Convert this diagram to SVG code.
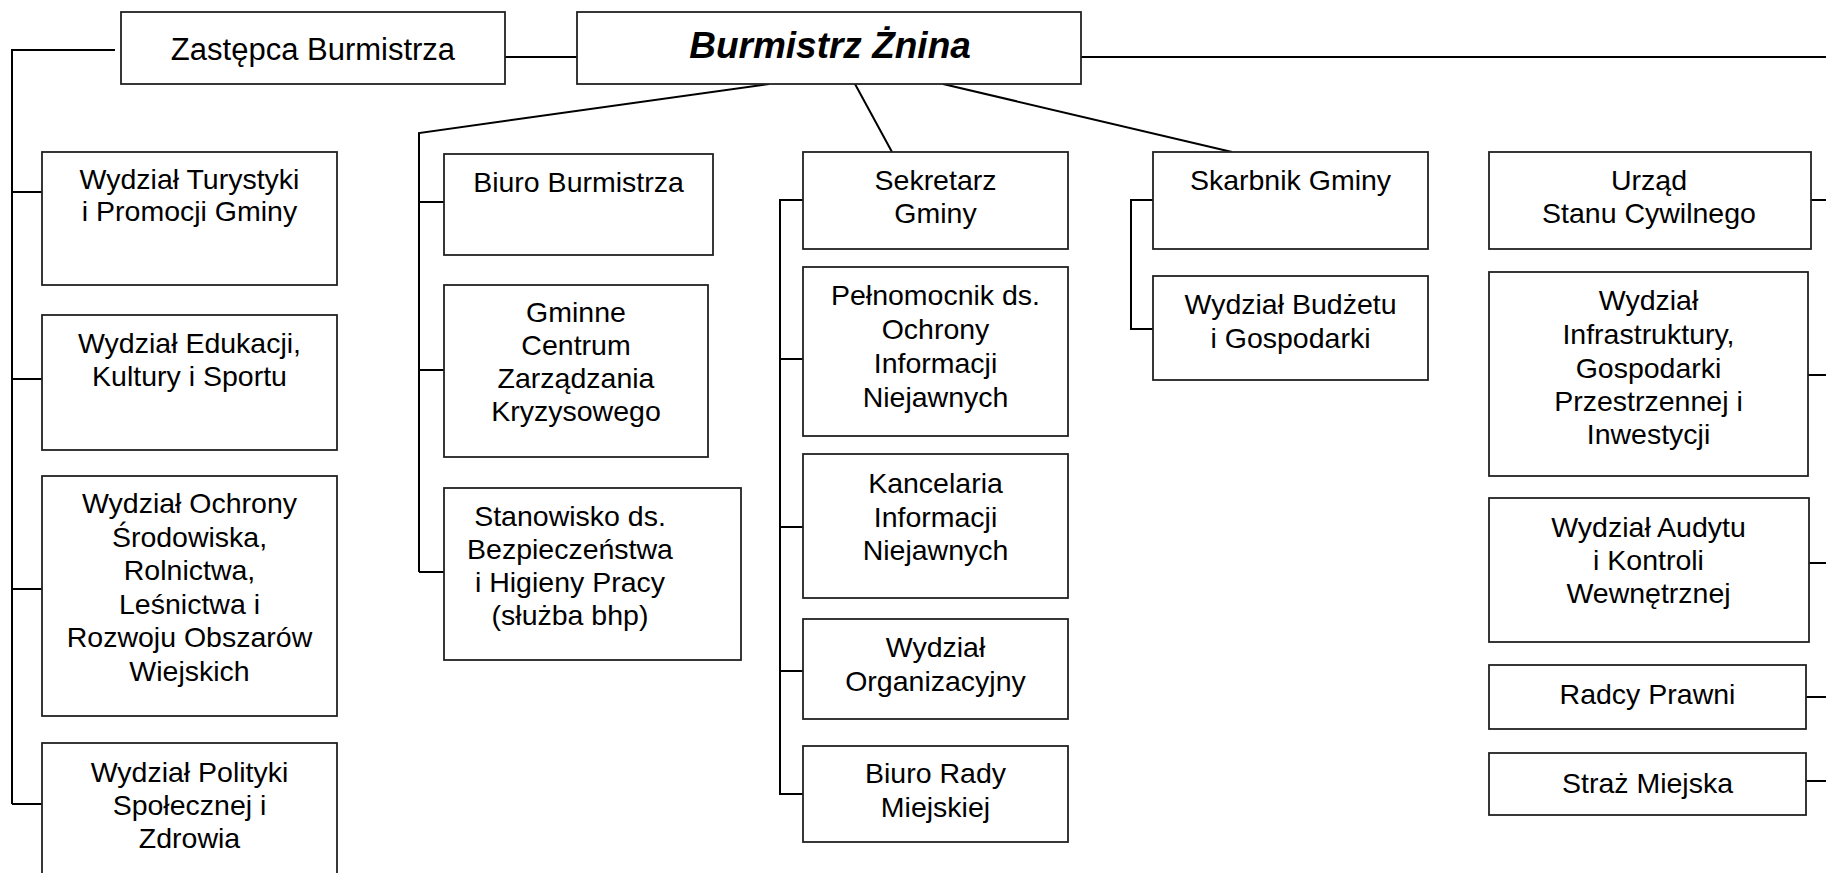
<svg xmlns="http://www.w3.org/2000/svg" width="1826" height="873" viewBox="0 0 1826 873">
<style>
.box{fill:#fff;stroke:#222;stroke-width:1.8}
.ln{fill:none;stroke:#000;stroke-width:2}
text{font-family:"Liberation Sans",Arial,sans-serif;font-size:28.5px;fill:#000;text-anchor:middle}
.title{font-size:37px;font-weight:bold;font-style:italic}
.dep{font-size:31px}
</style>
<rect width="1826" height="873" fill="#fff"/>
<g id="connectors">
<polyline class="ln" points="115,50 12,50 12,804"/>
<line class="ln" x1="12" y1="192" x2="42" y2="192"/>
<line class="ln" x1="12" y1="379" x2="42" y2="379"/>
<line class="ln" x1="12" y1="589" x2="42" y2="589"/>
<line class="ln" x1="12" y1="804" x2="43" y2="804"/>
<line class="ln" x1="505" y1="57" x2="577" y2="57"/>
<line class="ln" x1="1081" y1="57" x2="1826" y2="57"/>
<polyline class="ln" points="769,84 419,133 419,572"/>
<line class="ln" x1="419" y1="202" x2="444" y2="202"/>
<line class="ln" x1="419" y1="370" x2="444" y2="370"/>
<line class="ln" x1="419" y1="572" x2="444" y2="572"/>
<line class="ln" x1="855" y1="84" x2="892" y2="152"/>
<polyline class="ln" points="803,200 780,200 780,794 803,794"/>
<line class="ln" x1="780" y1="359" x2="803" y2="359"/>
<line class="ln" x1="780" y1="527" x2="803" y2="527"/>
<line class="ln" x1="780" y1="671" x2="803" y2="671"/>
<line class="ln" x1="943" y1="84" x2="1232" y2="152"/>
<polyline class="ln" points="1153,200 1131,200 1131,329 1153,329"/>
<line class="ln" x1="1811" y1="200" x2="1826" y2="200"/>
<line class="ln" x1="1808" y1="375" x2="1826" y2="375"/>
<line class="ln" x1="1809" y1="563" x2="1826" y2="563"/>
<line class="ln" x1="1806" y1="697" x2="1826" y2="697"/>
<line class="ln" x1="1806" y1="781" x2="1826" y2="781"/>
</g>
<g id="zastepca"><rect class="box" x="121" y="12" width="384" height="72"/><text class="dep" x="313" y="60">Zastępca Burmistrza</text></g>
<g id="burmistrz"><rect class="box" x="577" y="12" width="504" height="72"/><text class="title" x="830" y="58">Burmistrz Żnina</text></g>
<g id="turystyki"><rect class="box" x="42" y="152" width="295" height="133"/><text x="189.5" y="189">Wydział Turystyki</text><text x="189.5" y="221">i Promocji Gminy</text></g>
<g id="edukacji"><rect class="box" x="42" y="315" width="295" height="135"/><text x="189.5" y="353">Wydział Edukacji,</text><text x="189.5" y="386">Kultury i Sportu</text></g>
<g id="ochrony"><rect class="box" x="42" y="476" width="295" height="240"/><text x="189.5" y="513">Wydział Ochrony</text><text x="189.5" y="546.5">Środowiska,</text><text x="189.5" y="580">Rolnictwa,</text><text x="189.5" y="613.5">Leśnictwa i</text><text x="189.5" y="647">Rozwoju Obszarów</text><text x="189.5" y="680.5">Wiejskich</text></g>
<g id="polityki"><rect class="box" x="42" y="743" width="295" height="135"/><text x="189.5" y="782">Wydział Polityki</text><text x="189.5" y="815">Społecznej i</text><text x="189.5" y="848">Zdrowia</text></g>
<g id="biuro-burmistrza"><rect class="box" x="444" y="154" width="269" height="101"/><text x="578.5" y="192">Biuro Burmistrza</text></g>
<g id="gczk"><rect class="box" x="444" y="285" width="264" height="172"/><text x="576" y="322">Gminne</text><text x="576" y="355">Centrum</text><text x="576" y="388">Zarządzania</text><text x="576" y="421">Kryzysowego</text></g>
<g id="bhp"><rect class="box" x="444" y="488" width="297" height="172"/><text x="570" y="526">Stanowisko ds.</text><text x="570" y="559">Bezpieczeństwa</text><text x="570" y="592">i Higieny Pracy</text><text x="570" y="625">(służba bhp)</text></g>
<g id="sekretarz"><rect class="box" x="803" y="152" width="265" height="97"/><text x="935.5" y="190">Sekretarz</text><text x="935.5" y="223">Gminy</text></g>
<g id="pelnomocnik"><rect class="box" x="803" y="267" width="265" height="169"/><text x="935.5" y="305">Pełnomocnik ds.</text><text x="935.5" y="339">Ochrony</text><text x="935.5" y="373">Informacji</text><text x="935.5" y="407">Niejawnych</text></g>
<g id="kancelaria"><rect class="box" x="803" y="454" width="265" height="144"/><text x="935.5" y="493">Kancelaria</text><text x="935.5" y="527">Informacji</text><text x="935.5" y="560">Niejawnych</text></g>
<g id="organizacyjny"><rect class="box" x="803" y="619" width="265" height="100"/><text x="935.5" y="657">Wydział</text><text x="935.5" y="691">Organizacyjny</text></g>
<g id="biuro-rady"><rect class="box" x="803" y="746" width="265" height="96"/><text x="935.5" y="783">Biuro Rady</text><text x="935.5" y="817">Miejskiej</text></g>
<g id="skarbnik"><rect class="box" x="1153" y="152" width="275" height="97"/><text x="1290.5" y="190">Skarbnik Gminy</text></g>
<g id="budzetu"><rect class="box" x="1153" y="276" width="275" height="104"/><text x="1290.5" y="314">Wydział Budżetu</text><text x="1290.5" y="348">i Gospodarki</text></g>
<g id="usc"><rect class="box" x="1489" y="152" width="322" height="97"/><text x="1649" y="190">Urząd</text><text x="1649" y="223">Stanu Cywilnego</text></g>
<g id="infrastruktury"><rect class="box" x="1489" y="272" width="319" height="204"/><text x="1648.5" y="310">Wydział</text><text x="1648.5" y="344">Infrastruktury,</text><text x="1648.5" y="378">Gospodarki</text><text x="1648.5" y="411">Przestrzennej i</text><text x="1648.5" y="444">Inwestycji</text></g>
<g id="audytu"><rect class="box" x="1489" y="498" width="320" height="144"/><text x="1648.5" y="537">Wydział Audytu</text><text x="1648.5" y="570">i Kontroli</text><text x="1648.5" y="603">Wewnętrznej</text></g>
<g id="radcy"><rect class="box" x="1489" y="665" width="317" height="64"/><text x="1647.5" y="704">Radcy Prawni</text></g>
<g id="straz"><rect class="box" x="1489" y="753" width="317" height="62"/><text x="1647.5" y="793">Straż Miejska</text></g>
</svg>
